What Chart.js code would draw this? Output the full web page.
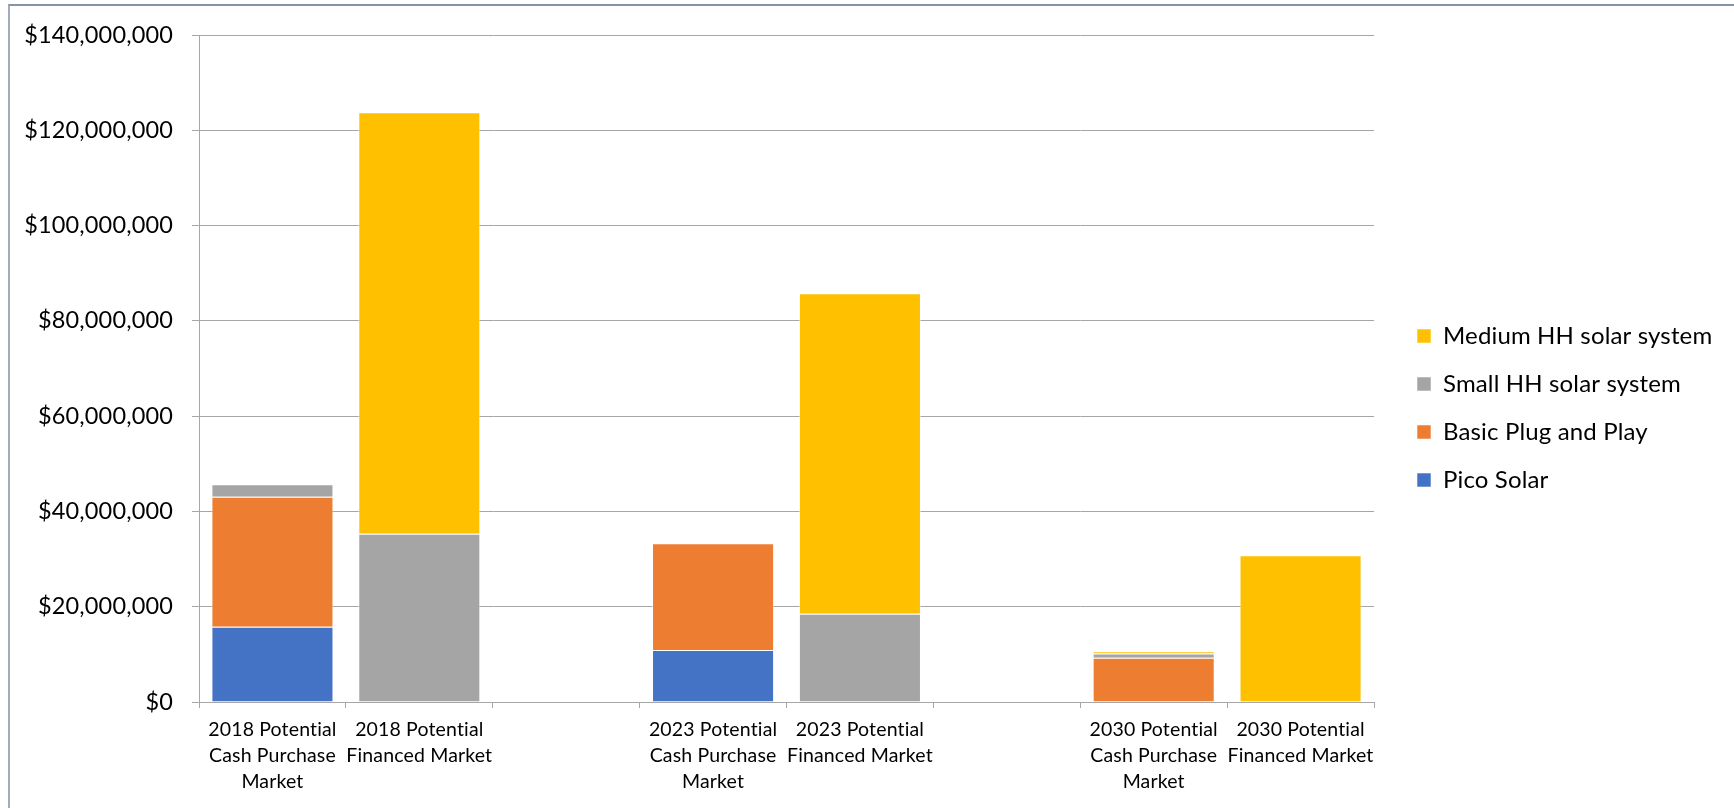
<!DOCTYPE html>
<html>
<head>
<meta charset="utf-8">
<title>Potential solar market</title>
<script src="https://cdn.jsdelivr.net/npm/chart.js@4.4.1/dist/chart.umd.min.js"></script>
<style>
  html, body { margin: 0; padding: 0; background: #fff; }
  #wrap { position: relative; width: 1734px; height: 808px; overflow: hidden; }
  #frame {
    position: absolute; left: 8px; top: 4px; right: 0; bottom: 0;
    border-top: 2px solid #8592a7; border-left: 2px solid #a2abb9;
  }
  #market { position: absolute; left: 0; top: 0; }
</style>
</head>
<body>
<div id="wrap">
  <div id="frame"></div>
  <canvas id="market" width="1734" height="808"></canvas>
</div>
<script>
// market categories, with empty slots as spacers between the years
const categories = [
  ['2018 Potential', 'Cash Purchase', 'Market'],
  ['2018 Potential', 'Financed Market'],
  '',
  ['2023 Potential', 'Cash Purchase', 'Market'],
  ['2023 Potential', 'Financed Market'],
  '',
  ['2030 Potential', 'Cash Purchase', 'Market'],
  ['2030 Potential', 'Financed Market']
];

// market size in US$
const picoSolar    = [15800000, null,     null, 10900000, null,     null, null,    null];
const basicPlug    = [27300000, null,     null, 22400000, null,     null, 9300000, null];
const smallHH      = [2600000,  35300000, null, null,     18500000, null, 900000,  null];
const mediumHH     = [null,     88500000, null, null,     67300000, null, 450000,  30800000];

const yTicks = { min: 0, max: 140000000, step: 20000000 };

const gridGrey = '#a6a6a6';
const inkColor = '#000000';

Chart.defaults.font.family = 'Lato, "Open Sans", sans-serif';
Chart.defaults.color = inkColor;

// a touch of letter spacing keeps Lato from joining "ti" into a ligature
const textSpacing = {
  id: 'textSpacing',
  beforeLayout(chart) { chart.ctx.letterSpacing = '0.15px'; },
  beforeDraw(chart) { chart.ctx.letterSpacing = '0.15px'; }
};

// fixed legend width and position so the plot keeps its proportions
const legendPlacement = {
  id: 'legendPlacement',
  afterInit(chart) {
    const lg = chart.legend;
    const fit = lg.fit;
    lg.fit = function () {
      fit.call(this);
      this.width = 360;
    };
  },
  afterLayout(chart) {
    const lg = chart.legend;
    const w = lg.right - lg.left;
    const h = lg.bottom - lg.top;
    lg.left = chart.chartArea.right + 19;
    lg.right = lg.left + w;
    lg.top = 300;
    lg.bottom = lg.top + h;
  }
};

function series(label, data, color) {
  return {
    label: label,
    data: data,
    backgroundColor: color,
    borderColor: 'rgba(255,255,255,0.55)',
    borderWidth: 1,
    categoryPercentage: 0.831,
    barPercentage: 1
  };
}

new Chart(document.getElementById('market'), {
  type: 'bar',
  data: {
    labels: categories,
    datasets: [
      series('Pico Solar', picoSolar, '#4472c4'),
      series('Basic Plug and Play', basicPlug, '#ed7d31'),
      series('Small HH solar system', smallHH, '#a5a5a5'),
      series('Medium HH solar system', mediumHH, '#ffc000')
    ]
  },
  options: {
    responsive: false,
    animation: false,
    layout: { padding: { top: 35, left: 0, right: 0, bottom: 0 } },
    plugins: {
      tooltip: { enabled: false },
      legend: {
        position: 'right',
        align: 'start',
        reverse: true,
        labels: {
          boxWidth: 14,
          boxHeight: 14,
          padding: 24,
          color: inkColor,
          font: { size: 24 }
        }
      }
    },
    scales: {
      x: {
        stacked: true,
        afterFit(scale) { scale.height = 106; },
        grid: {
          offset: true,
          drawOnChartArea: false,
          drawTicks: true,
          tickLength: 6,
          color: gridGrey
        },
        border: { color: gridGrey, width: 1 },
        ticks: {
          autoSkip: false,
          maxRotation: 0,
          padding: 9,
          color: inkColor,
          font: { size: 19.5, lineHeight: 1.33 }
        }
      },
      y: {
        stacked: true,
        min: yTicks.min,
        max: yTicks.max,
        afterFit(scale) { scale.width = 199; },
        grid: {
          color: gridGrey,
          lineWidth: 1,
          drawTicks: true,
          tickLength: 7
        },
        border: { color: gridGrey, width: 1 },
        ticks: {
          stepSize: yTicks.step,
          padding: 19,
          color: inkColor,
          font: { size: 23.5 },
          callback: v => '$' + Number(v).toLocaleString('en-US')
        }
      }
    }
  },
  plugins: [textSpacing, legendPlacement]
});
</script>
</body>
</html>
